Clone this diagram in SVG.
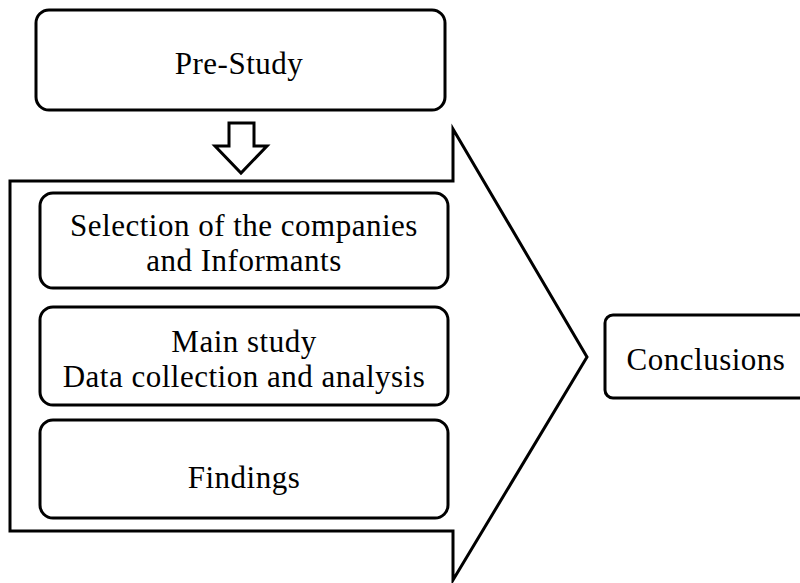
<svg xmlns="http://www.w3.org/2000/svg" width="800" height="583" viewBox="0 0 800 583">
<style>
.box{fill:#fff;stroke:#000;stroke-width:3}
.shape{fill:#fff;stroke:#000;stroke-width:3;stroke-linejoin:miter}
.t{font-family:'Liberation Serif','Times New Roman',serif;font-size:31px;letter-spacing:0.5px;fill:#000;text-anchor:middle}
</style>
<rect width="800" height="583" fill="#fff"/>
<g id="connectors">
<path class="shape" d="M10,181 H453 V129 L587,357 L453,580 V531 H10 Z"/>
<path class="shape" d="M229,123 H254 V146 H267 L241,173 L215,146 H229 Z"/>
</g>
<g id="pre-study">
<rect class="box" x="36" y="10" width="409" height="100" rx="13"/>
<text class="t" x="239" y="74">Pre-Study</text>
</g>
<g id="selection">
<rect class="box" x="40" y="193" width="408" height="95" rx="13"/>
<text class="t" x="244" y="236">Selection of the companies</text>
<text class="t" x="244" y="271">and Informants</text>
</g>
<g id="main-study">
<rect class="box" x="40" y="307" width="408" height="98" rx="13"/>
<text class="t" x="244" y="352">Main study</text>
<text class="t" x="244" y="387">Data collection and analysis</text>
</g>
<g id="findings">
<rect class="box" x="40" y="420" width="408" height="98" rx="13"/>
<text class="t" x="244" y="488">Findings</text>
</g>
<g id="conclusions">
<rect class="box" x="605" y="315" width="210" height="83" rx="8"/>
<text class="t" x="706" y="370">Conclusions</text>
</g>
</svg>
